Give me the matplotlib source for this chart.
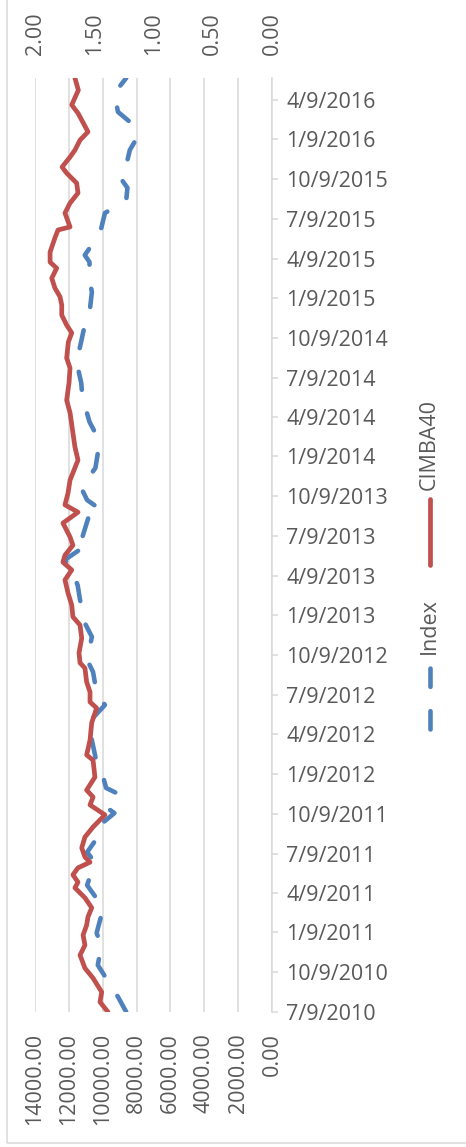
import pandas as pd
import matplotlib
matplotlib.use("Agg")
import matplotlib.pyplot as plt
import matplotlib.dates as mdates
from matplotlib.ticker import MultipleLocator, FuncFormatter
from matplotlib.lines import Line2D
from matplotlib.patches import Rectangle

# CIMBA40 (primary axis) values
cimba_dates = [
    "2010-07-09", "2010-08-01", "2010-08-24", "2010-09-25", "2010-10-18", "2010-11-17",
    "2010-12-10", "2011-01-02", "2011-01-25", "2011-02-13", "2011-03-06", "2011-03-29",
    "2011-04-21", "2011-05-04", "2011-05-21", "2011-06-06", "2011-06-19", "2011-07-01",
    "2011-07-22", "2011-08-16", "2011-09-08", "2011-10-06", "2011-10-29", "2011-11-16",
    "2011-12-02", "2012-01-01", "2012-02-09", "2012-02-21", "2012-03-26", "2012-05-05",
    "2012-06-08", "2012-06-22", "2012-07-15", "2012-08-07", "2012-09-08", "2012-09-20",
    "2012-10-13", "2012-11-16", "2012-12-16", "2013-01-04", "2013-01-31", "2013-02-28",
    "2013-03-30", "2013-04-22", "2013-05-10", "2013-05-26", "2013-06-18", "2013-07-07",
    "2013-08-08", "2013-09-02", "2013-09-19", "2013-10-16", "2013-11-15", "2013-12-31",
    "2014-01-30", "2014-04-19", "2014-05-18", "2014-06-27", "2014-07-31", "2014-08-23",
    "2014-09-29", "2014-10-20", "2014-11-07", "2014-11-30", "2014-12-23", "2015-01-11",
    "2015-01-31", "2015-02-23", "2015-03-18", "2015-04-01", "2015-04-24", "2015-05-27",
    "2015-06-14", "2015-06-21", "2015-07-23", "2015-08-15", "2015-09-07", "2015-09-30",
    "2015-10-23", "2015-11-06", "2015-11-29", "2015-12-15", "2016-01-07", "2016-01-26",
    "2016-02-22", "2016-03-09", "2016-03-28", "2016-05-01", "2016-05-29",
]
cimba_values = [
    9690, 10160, 10060, 10570, 11050, 11340,
    11050, 11160, 10950, 10870, 10650, 11050,
    11640, 11460, 11760, 11460, 10750, 11050,
    11240, 11050, 10570, 9870, 10750, 10570,
    10950, 10460, 10570, 10950, 10750, 10650,
    10360, 10750, 10750, 10950, 11050, 11340,
    11400, 11240, 11340, 11760, 11830, 12050,
    12230, 11830, 12350, 12230, 11760, 11930,
    12350, 11460, 12230, 12050, 11930, 11460,
    11640, 11930, 12130, 11990, 11930, 12130,
    12030, 11830, 12130, 12420, 12420, 12520,
    12820, 13010, 12720, 13110, 13110, 12820,
    12640, 11930, 12230, 11930, 11460, 11540,
    12130, 12400, 11930, 11640, 11340, 10870,
    11240, 11460, 11830, 11440, 11640,
]

# Index (secondary axis)
index_dates = [
    "2010-07-09", "2010-08-13", "2010-09-25", "2010-10-25", "2010-12-10", "2011-01-07",
    "2011-02-17", "2011-03-12", "2011-04-27", "2011-05-14", "2011-06-24", "2011-07-12",
    "2011-08-16", "2011-09-13", "2011-10-10", "2011-10-24", "2011-11-25", "2011-12-07",
    "2012-01-17", "2012-02-16", "2012-05-05", "2012-06-15", "2012-07-13", "2012-08-30",
    "2012-09-27", "2012-11-19", "2012-12-21", "2013-02-12", "2013-03-18", "2013-05-03",
    "2013-05-15", "2013-06-23", "2013-07-07", "2013-08-20", "2013-09-07", "2013-09-30",
    "2013-10-28", "2013-12-13", "2014-01-16", "2014-03-03", "2014-03-29", "2014-05-25",
    "2014-06-27", "2014-08-14", "2014-09-18", "2014-11-07", "2014-12-05", "2015-01-22",
    "2015-02-19", "2015-04-01", "2015-04-17", "2015-05-03", "2015-06-19", "2015-07-23",
    "2015-08-22", "2015-09-19", "2015-10-12", "2015-10-30", "2015-12-15", "2016-01-12",
    "2016-02-18", "2016-03-12", "2016-04-24", "2016-05-29",
]
index_values = [
    1.23, 1.30, 1.40, 1.47, 1.44, 1.48,
    1.44, 1.44, 1.56, 1.54, 1.51, 1.56,
    1.47, 1.45, 1.33, 1.40, 1.31, 1.40,
    1.44, 1.49, 1.55, 1.41, 1.48, 1.51,
    1.56, 1.52, 1.58, 1.62, 1.64, 1.71,
    1.75, 1.54, 1.60, 1.55, 1.44, 1.56,
    1.61, 1.49, 1.47, 1.49, 1.54, 1.60,
    1.61, 1.65, 1.62, 1.58, 1.54, 1.52,
    1.54, 1.54, 1.58, 1.54, 1.44, 1.41,
    1.23, 1.22, 1.28, 1.24, 1.20, 1.14,
    1.20, 1.30, 1.33, 1.23,
]

date_start = "2010-07-09"
date_end = "2016-05-29"

RED = "#C0504D"
BLUE = "#4F81BD"
GRID = "#D9D9D9"
TEXT = "#595959"

plt.rcParams["font.family"] = ["Open Sans", "DejaVu Sans"]
FS = 15.5

W, H = 466, 1147
fig = plt.figure(figsize=(W / 100, H / 100), dpi=100, facecolor="white")

# chart border (top and right edges fall outside the picture)
fig.add_artist(Rectangle((7 / W, 4 / H), 1.2, 1.2, transform=fig.transFigure,
                         fill=False, edgecolor=GRID, lw=1.1))

rect = [35 / W, (H - 1012) / H, 237 / W, 934 / H]
c_dates = pd.to_datetime(cimba_dates)
i_dates = pd.to_datetime(index_dates)

# primary axis: values along the bottom (reversed), dates on the right
ax = fig.add_axes(rect)
ax.set_xlim(14000, 0)
ax.set_ylim(pd.Timestamp(date_start), pd.Timestamp(date_end))
ax.xaxis.set_major_locator(MultipleLocator(2000))
ax.xaxis.set_major_formatter(FuncFormatter(lambda v, p: f"{v:.2f}"))
ax.grid(axis="x", color=GRID, lw=1.1)
ax.tick_params(axis="x", length=0, pad=15, labelsize=FS, labelcolor=TEXT, labelrotation=90)

ax.yaxis.tick_right()
ax.yaxis.set_major_locator(mdates.MonthLocator(bymonth=(1, 4, 7, 10), bymonthday=9))


def date_label(v, pos):
    d = mdates.num2date(v)
    return f"{d.month}/{d.day}/{d.year}"


ax.yaxis.set_major_formatter(FuncFormatter(date_label))
ax.tick_params(axis="y", direction="out", length=4.3, width=1.1, color=GRID,
               pad=6, labelsize=FS, labelcolor=TEXT)
for side in ["left", "top", "bottom"]:
    ax.spines[side].set_visible(False)
ax.spines["right"].set_color(GRID)
ax.spines["right"].set_linewidth(1.1)

# secondary axis for Index along the top
ax2 = ax.twiny()
ax2.set_xlim(2, 0)
ax2.xaxis.set_major_locator(MultipleLocator(0.5))
ax2.xaxis.set_major_formatter(FuncFormatter(lambda v, p: f"{v:.2f}"))
ax2.tick_params(axis="x", length=0, pad=16.5, labelsize=FS, labelcolor=TEXT, labelrotation=90)
for s in ax2.spines.values():
    s.set_visible(False)
ax2.plot(index_values, i_dates, color=BLUE, lw=3.3, dashes=(4, 5.3),
         dash_capstyle="round", solid_capstyle="round")

# CIMBA40 drawn on top, same scale as the primary axis
ax3 = fig.add_axes(rect, sharex=ax, sharey=ax)
ax3.axis("off")
ax3.patch.set_visible(False)
ax3.plot(cimba_values, c_dates, color=RED, lw=3.4, solid_capstyle="round",
         solid_joinstyle="round")
ax3.set_xlim(14000, 0)
ax3.set_ylim(pd.Timestamp(date_start), pd.Timestamp(date_end))


# rotated legend on the right
def fy(y):
    return (H - y) / H


lx = 430 / W
fig.add_artist(Line2D([lx, lx], [fy(565), fy(499)], transform=fig.transFigure,
                      color=RED, lw=3.4, solid_capstyle="round"))
fig.add_artist(Line2D([lx, lx], [fy(728.7), fy(667.5)], transform=fig.transFigure,
                      color=BLUE, lw=3.3, dashes=(4, 5.3), dash_capstyle="round"))
fig.text(429 / W, fy(444), "CIMBA40", rotation=90, ha="center", va="center",
         fontsize=FS, color=TEXT)
fig.text(429 / W, fy(626), "Index", rotation=90, ha="center", va="center",
         fontsize=FS, color=TEXT)

fig.savefig("out.png", dpi=100, facecolor="white")
